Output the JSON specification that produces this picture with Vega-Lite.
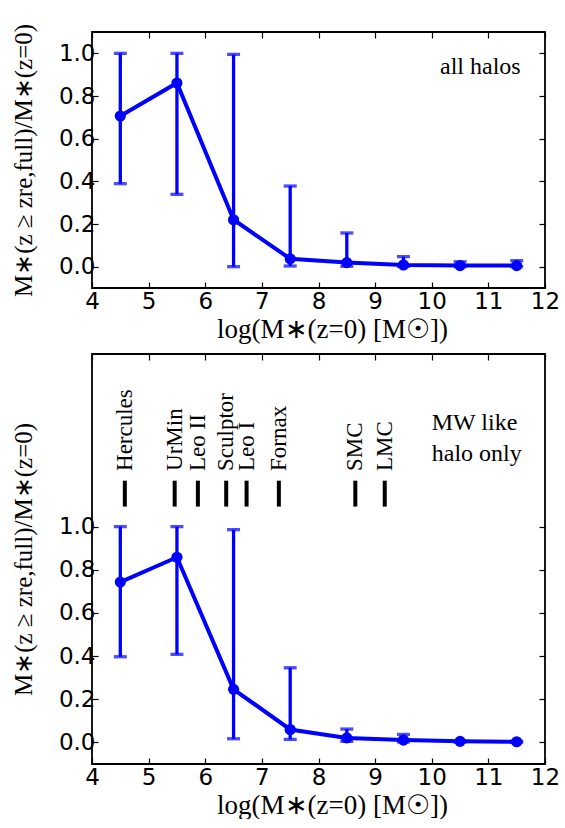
{
  "$schema": "https://vega.github.io/schema/vega-lite/v6.json",
  "padding": {"left": 10, "top": 22, "right": 0, "bottom": 0},
  "bounds": "flush",
  "spacing": 66,
  "config": {
    "view": {"stroke": "black", "strokeWidth": 1.8},
    "axis": {
      "domain": false, "grid": false,
      "tickSize": -6, "tickWidth": 1.2, "tickColor": "black",
      "labelFont": "DejaVu Sans", "labelFontSize": 23, "labelColor": "black", "labelFlush": false,
      "titleFont": "Liberation Serif", "titleFontSize": 25, "titleFontWeight": "normal", "titleColor": "black"
    },
    "axisBottom": {"titleFontSize": 27}
  },
  "datasets": {
    "all": [
      {"logM": 4.5, "frac": 0.706, "lo": 0.389, "hi": 1.0},
      {"logM": 5.5, "frac": 0.861, "lo": 0.339, "hi": 1.0},
      {"logM": 6.5, "frac": 0.220, "lo": 0.0, "hi": 0.995},
      {"logM": 7.5, "frac": 0.037, "lo": 0.003, "hi": 0.378},
      {"logM": 8.5, "frac": 0.019, "lo": 0.002, "hi": 0.158},
      {"logM": 9.5, "frac": 0.008, "lo": 0.001, "hi": 0.047},
      {"logM": 10.5, "frac": 0.005, "lo": 0.0, "hi": 0.023},
      {"logM": 11.5, "frac": 0.005, "lo": 0.0, "hi": 0.028}
    ],
    "mw": [
      {"logM": 4.5, "frac": 0.743, "lo": 0.397, "hi": 1.0},
      {"logM": 5.5, "frac": 0.858, "lo": 0.408, "hi": 1.0},
      {"logM": 6.5, "frac": 0.246, "lo": 0.017, "hi": 0.986},
      {"logM": 7.5, "frac": 0.060, "lo": 0.014, "hi": 0.346},
      {"logM": 8.5, "frac": 0.021, "lo": 0.005, "hi": 0.062},
      {"logM": 9.5, "frac": 0.011, "lo": 0.002, "hi": 0.037},
      {"logM": 10.5, "frac": 0.005, "lo": 0.001, "hi": 0.008},
      {"logM": 11.5, "frac": 0.003, "lo": 0.0, "hi": 0.005}
    ],
    "gal": [
      {"name": "Hercules", "logM": 4.58},
      {"name": "UrMin", "logM": 5.46},
      {"name": "Leo II", "logM": 5.87},
      {"name": "Sculptor", "logM": 6.37},
      {"name": "Leo I", "logM": 6.73},
      {"name": "Fornax", "logM": 7.30},
      {"name": "SMC", "logM": 8.65},
      {"name": "LMC", "logM": 9.17}
    ],
    "note1": [{"label": "all halos"}],
    "note2": [{"label": "MW like\nhalo only"}]
  },
  "vconcat": [
    {
      "width": 453, "height": 256,
      "layer": [
        {
          "data": {"name": "all"},
          "mark": {"type": "rule", "color": "#0000ff", "strokeWidth": 3.3},
          "encoding": {
            "x": {"field": "logM", "type": "quantitative", "scale": {"domain": [4, 12], "nice": false, "zero": false},
                  "axis": {"orient": "bottom", "values": [4,5,6,7,8,9,10,11,12], "format": "d", "labelPadding": 8, "titlePadding": 3, "titleX": 240, "title": "log(M∗(z=0) [M☉])"}},
            "y": {"field": "lo", "type": "quantitative", "scale": {"domain": [-0.1, 1.1], "nice": false, "zero": false},
                  "axis": {"orient": "left", "values": [0, 0.2, 0.4, 0.6, 0.8, 1.0], "format": ".1f", "labelPadding": 3, "titlePadding": 22, "title": "M∗(z ≥ zre,full)/M∗(z=0)"}},
            "y2": {"field": "hi"}
          }
        },
        {
          "data": {"name": "all"},
          "mark": {"type": "tick", "orient": "horizontal", "color": "#0000ff", "size": 13, "thickness": 3.3},
          "encoding": {
            "x": {"field": "logM", "type": "quantitative", "axis": {"orient": "top", "values": [4,5,6,7,8,9,10,11,12], "labels": false, "title": null}},
            "y": {"field": "hi", "type": "quantitative", "axis": {"orient": "right", "values": [0, 0.2, 0.4, 0.6, 0.8, 1.0], "labels": false, "title": null}}
          }
        },
        {
          "data": {"name": "all"},
          "mark": {"type": "tick", "orient": "horizontal", "color": "#0000ff", "size": 13, "thickness": 3.3},
          "encoding": {
            "x": {"field": "logM", "type": "quantitative", "axis": null},
            "y": {"field": "lo", "type": "quantitative", "axis": null}
          }
        },
        {
          "data": {"name": "all"},
          "mark": {"type": "line", "color": "#0000ff", "strokeWidth": 4},
          "encoding": {
            "x": {"field": "logM", "type": "quantitative", "axis": null},
            "y": {"field": "frac", "type": "quantitative", "axis": null}
          }
        },
        {
          "data": {"name": "all"},
          "mark": {"type": "circle", "color": "#0000ff", "opacity": 1, "size": 125},
          "encoding": {
            "x": {"field": "logM", "type": "quantitative", "axis": null},
            "y": {"field": "frac", "type": "quantitative", "axis": null}
          }
        },
        {
          "data": {"name": "note1"},
          "mark": {"type": "text", "align": "right", "baseline": "alphabetic", "font": "Liberation Serif", "fontSize": 24, "color": "black"},
          "encoding": {
            "x": {"datum": 11.57, "type": "quantitative", "axis": null},
            "y": {"datum": 0.903, "type": "quantitative", "axis": null},
            "text": {"field": "label"}
          }
        }
      ],
      "resolve": {"axis": {"x": "independent", "y": "independent"}}
    },
    {
      "width": 453, "height": 410,
      "layer": [
        {
          "data": {"name": "mw"},
          "mark": {"type": "rule", "color": "#0000ff", "strokeWidth": 3.3},
          "encoding": {
            "x": {"field": "logM", "type": "quantitative", "scale": {"domain": [4, 12], "nice": false, "zero": false},
                  "axis": {"orient": "bottom", "values": [4,5,6,7,8,9,10,11,12], "format": "d", "labelPadding": 8, "titlePadding": 3, "titleX": 240, "title": "log(M∗(z=0) [M☉])"}},
            "y": {"field": "lo", "type": "quantitative", "scale": {"domain": [-0.1, 1.8], "nice": false, "zero": false},
                  "axis": {"orient": "left", "values": [0, 0.2, 0.4, 0.6, 0.8, 1.0], "format": ".1f", "labelPadding": 3, "titlePadding": 22, "title": "M∗(z ≥ zre,full)/M∗(z=0)"}},
            "y2": {"field": "hi"}
          }
        },
        {
          "data": {"name": "mw"},
          "mark": {"type": "tick", "orient": "horizontal", "color": "#0000ff", "size": 13, "thickness": 3.3},
          "encoding": {
            "x": {"field": "logM", "type": "quantitative", "axis": {"orient": "top", "values": [4,5,6,7,8,9,10,11,12], "labels": false, "title": null}},
            "y": {"field": "hi", "type": "quantitative", "axis": {"orient": "right", "values": [0, 0.2, 0.4, 0.6, 0.8, 1.0], "labels": false, "title": null}}
          }
        },
        {
          "data": {"name": "mw"},
          "mark": {"type": "tick", "orient": "horizontal", "color": "#0000ff", "size": 13, "thickness": 3.3},
          "encoding": {
            "x": {"field": "logM", "type": "quantitative", "axis": null},
            "y": {"field": "lo", "type": "quantitative", "axis": null}
          }
        },
        {
          "data": {"name": "mw"},
          "mark": {"type": "line", "color": "#0000ff", "strokeWidth": 4},
          "encoding": {
            "x": {"field": "logM", "type": "quantitative", "axis": null},
            "y": {"field": "frac", "type": "quantitative", "axis": null}
          }
        },
        {
          "data": {"name": "mw"},
          "mark": {"type": "circle", "color": "#0000ff", "opacity": 1, "size": 125},
          "encoding": {
            "x": {"field": "logM", "type": "quantitative", "axis": null},
            "y": {"field": "frac", "type": "quantitative", "axis": null}
          }
        },
        {
          "data": {"name": "gal"},
          "mark": {"type": "rule", "color": "black", "strokeWidth": 4},
          "encoding": {
            "x": {"field": "logM", "type": "quantitative", "axis": null},
            "y": {"datum": 1.093, "type": "quantitative", "axis": null},
            "y2": {"datum": 1.213}
          }
        },
        {
          "data": {"name": "gal"},
          "mark": {"type": "text", "angle": 270, "align": "left", "baseline": "middle", "font": "Liberation Serif", "fontSize": 23, "color": "black"},
          "encoding": {
            "x": {"field": "logM", "type": "quantitative", "axis": null},
            "y": {"datum": 1.258, "type": "quantitative", "axis": null},
            "text": {"field": "name"}
          }
        },
        {
          "data": {"name": "note2"},
          "mark": {"type": "text", "align": "left", "baseline": "alphabetic", "font": "Liberation Serif", "fontSize": 24, "color": "black", "lineBreak": "\n", "lineHeight": 31.5},
          "encoding": {
            "x": {"datum": 10.0, "type": "quantitative", "axis": null},
            "y": {"datum": 1.449, "type": "quantitative", "axis": null},
            "text": {"field": "label"}
          }
        }
      ],
      "resolve": {"axis": {"x": "independent", "y": "independent"}}
    }
  ]
}
